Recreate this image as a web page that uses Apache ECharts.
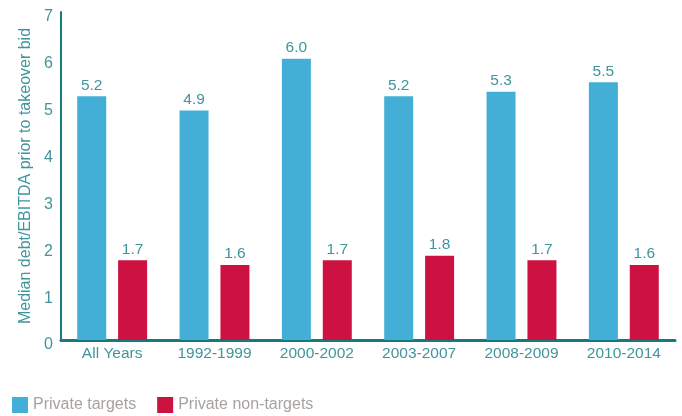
<!DOCTYPE html>
<html><head><meta charset="utf-8">
<script src="https://cdn.jsdelivr.net/npm/echarts@6/dist/echarts.min.js"></script>
<style>html,body{margin:0;padding:0;background:#fff}#c{width:682px;height:416px}</style>
</head><body><div id="c"></div>
<script>
const categories = ["All Years","1992-1999","2000-2002","2003-2007","2008-2009","2010-2014"];
const privateTargets = [5.2,4.9,6.0,5.2,5.3,5.5];
const privateNonTargets = [1.7,1.6,1.7,1.8,1.7,1.6];
const yTicks = [0,1,2,3,4,5,6,7];

const teal = '#3f959b';
const axisTeal = '#157a80';
const font = 'Liberation Sans, Arial, sans-serif';
const chart = echarts.init(document.getElementById('c'));
chart.setOption({
  animation:false,
  textStyle:{fontFamily:font},
  legend:{left:7,top:392,itemWidth:16,itemHeight:16,itemGap:21,
    textStyle:{color:'#a8a29f',fontSize:16,fontFamily:font},
    icon:'rect',data:['Private targets','Private non-targets']},
  grid:{left:61,right:7,top:12,bottom:76,containLabel:false},
  xAxis:{type:'category',data:categories,
    axisLine:{lineStyle:{color:axisTeal,width:3}},
    axisTick:{show:false},
    axisLabel:{color:teal,fontSize:15.5,margin:6,fontFamily:font}},
  yAxis:{type:'value',min:yTicks[0],max:yTicks[yTicks.length-1],interval:1,
    name:'Median debt/EBITDA prior to takeover bid',nameLocation:'middle',nameGap:27,
    nameTextStyle:{color:teal,fontSize:16,fontFamily:font},
    axisLine:{show:true,lineStyle:{color:axisTeal,width:2}},
    axisTick:{show:false},splitLine:{show:false},
    axisLabel:{color:teal,fontSize:16,margin:8,fontFamily:font,
      formatter:'{a|{value}}',rich:{a:{fontSize:16,color:teal,fontFamily:font,padding:[10,0,0,0]}}}},
  series:[
    {name:'Private targets',type:'bar',data:privateTargets,barWidth:29,barGap:'41%',
     itemStyle:{color:'#43afd7'},
     label:{show:true,position:'top',distance:3,color:teal,fontSize:15.5,fontFamily:font,formatter:p=>p.value.toFixed(1)}},
    {name:'Private non-targets',type:'bar',data:privateNonTargets,barWidth:29,barGap:'41%',
     itemStyle:{color:'#cd1241'},
     label:{show:true,position:'top',distance:3,color:teal,fontSize:15.5,fontFamily:font,formatter:p=>p.value.toFixed(1)}}
  ]
});
</script></body></html>
